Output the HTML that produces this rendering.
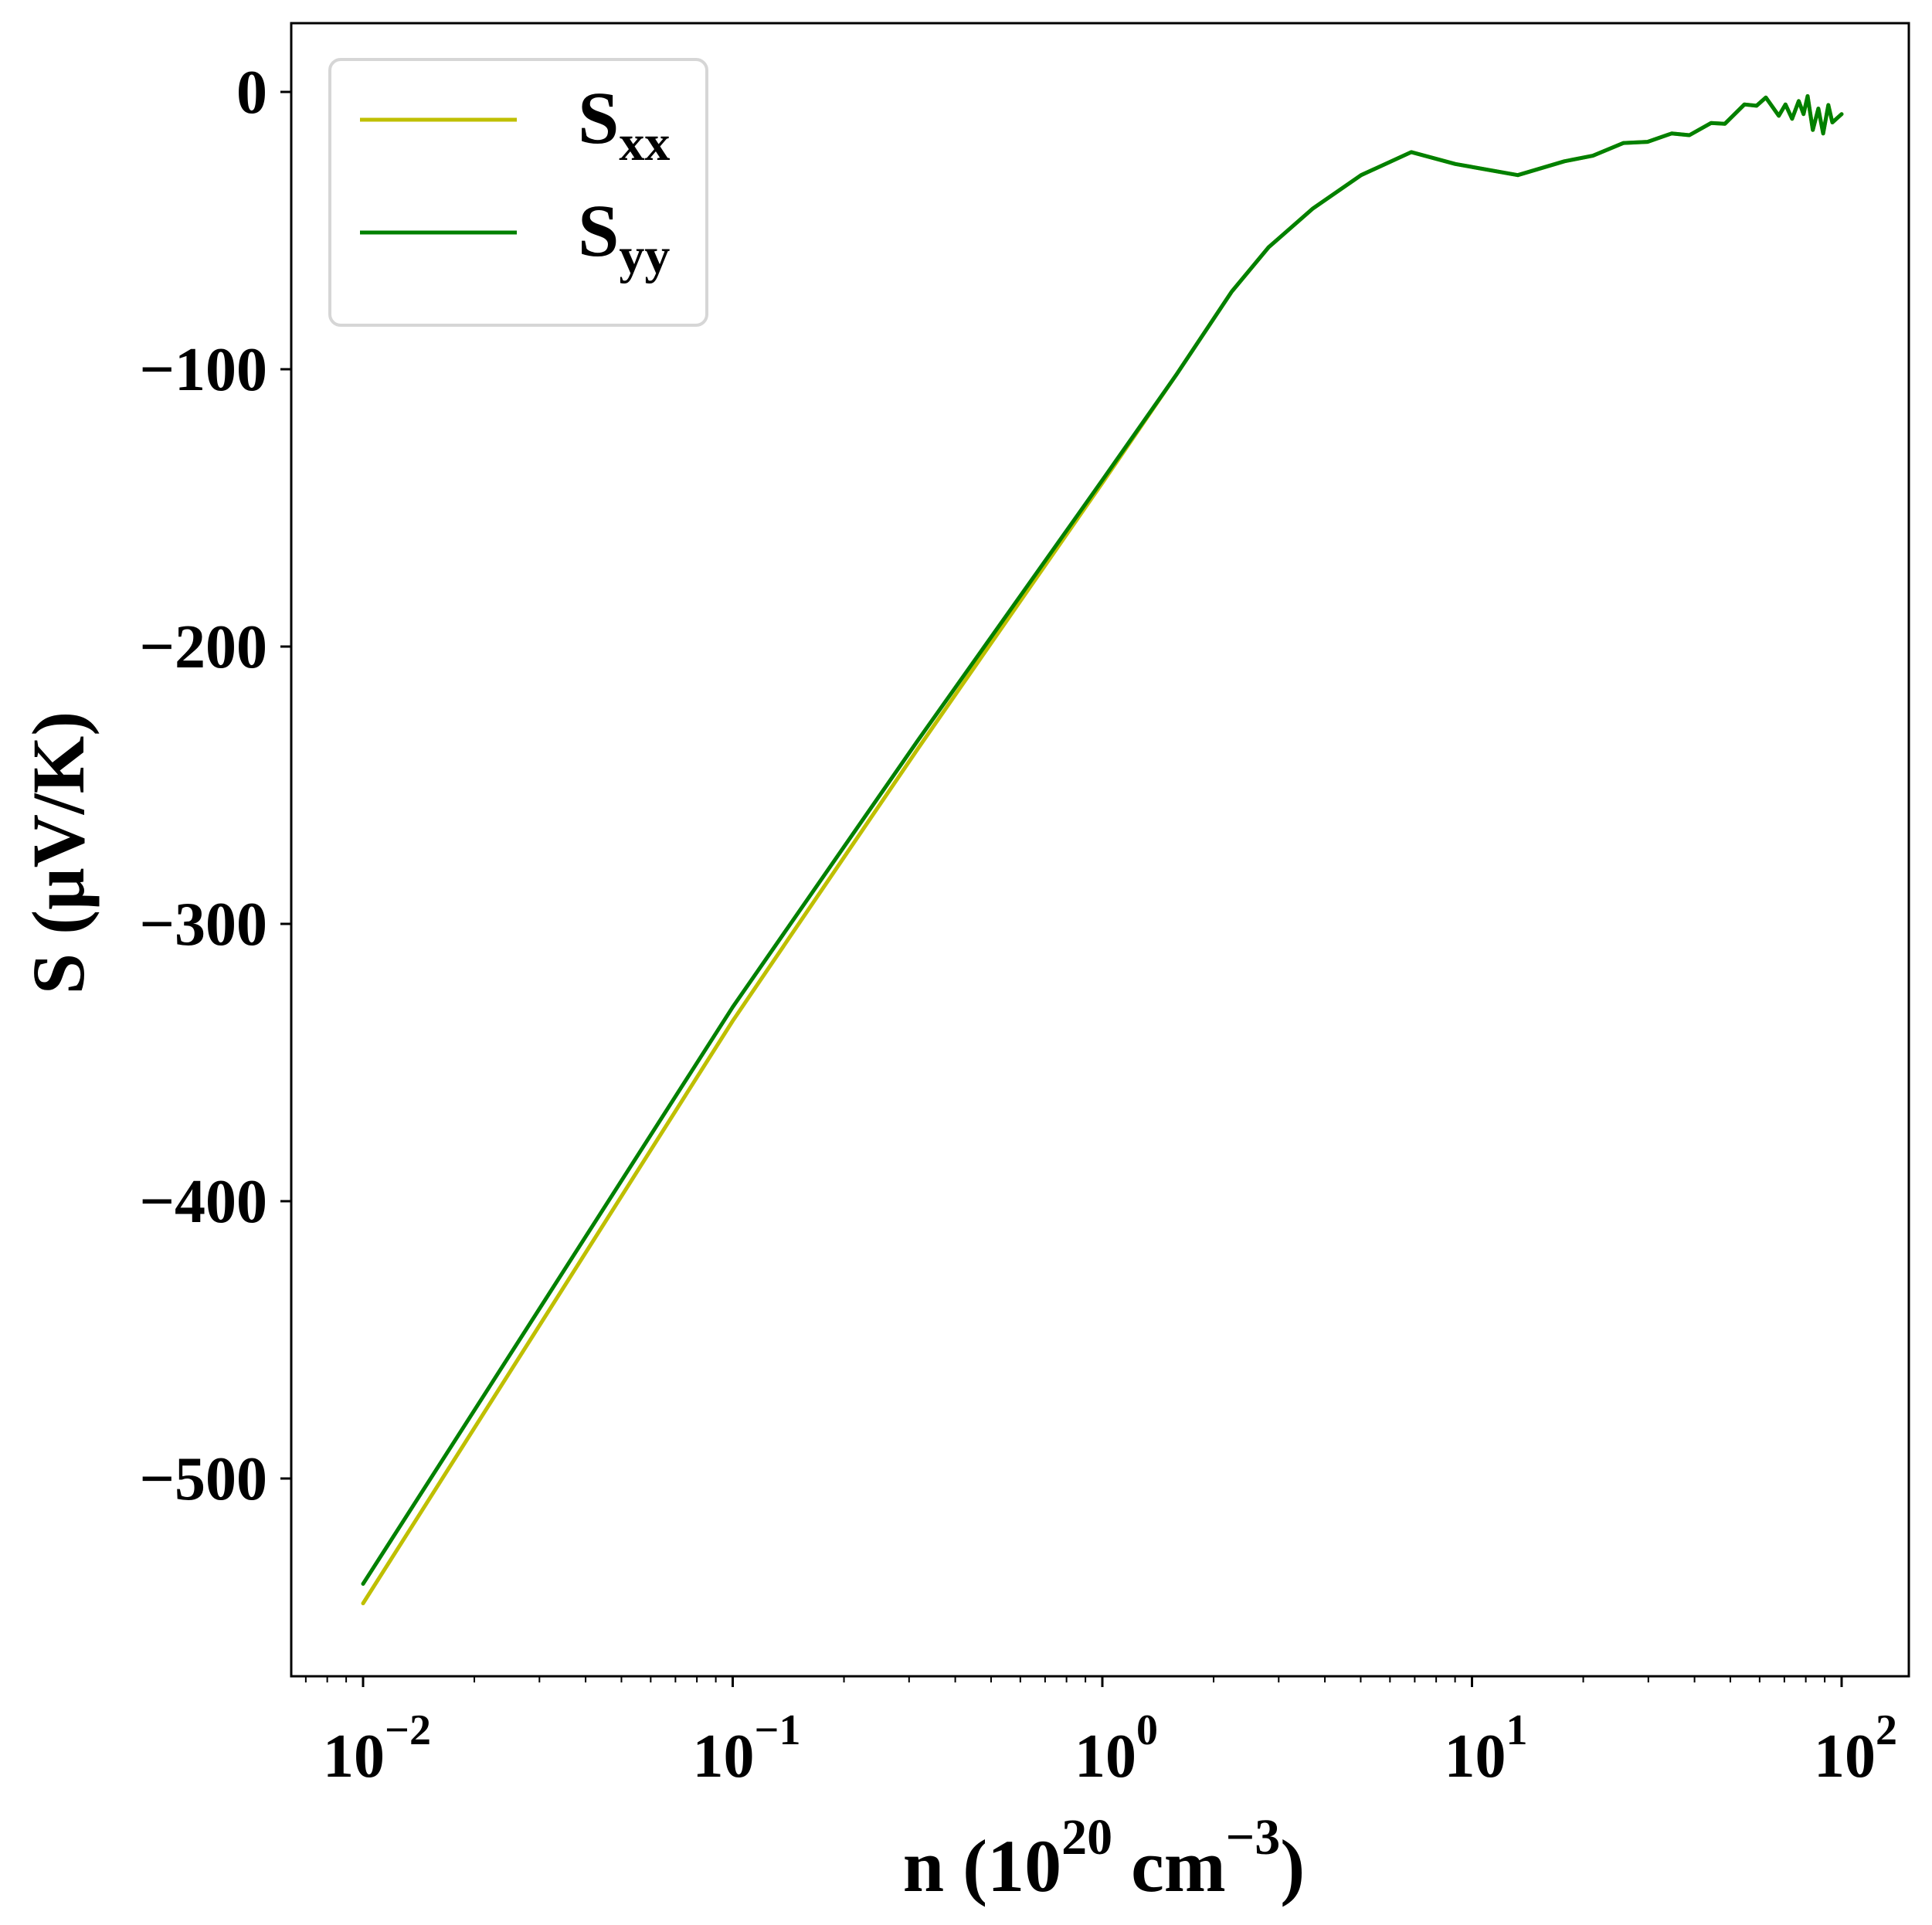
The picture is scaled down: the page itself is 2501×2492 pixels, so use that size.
<!DOCTYPE html>
<html><head><meta charset="utf-8"><style>
html,body{margin:0;padding:0;background:#fff;}
svg{display:block;font-family:"Liberation Serif",serif;font-weight:bold;}
</style></head><body>
<svg id="chart" width="2501" height="2492" viewBox="0 0 2501 2492" xmlns="http://www.w3.org/2000/svg">
<g id="plot"></g>
<g id="axes"></g>
<g id="legend">
  <rect x="427" y="77" width="488" height="344" rx="14" fill="#fff" stroke="#d6d6d6" stroke-width="4"/>
  <line x1="466" y1="155" x2="669" y2="155" stroke="#bfbf00" stroke-width="5"/>
  <text x="748" y="185" font-size="96">S<tspan font-size="66" dy="22">xx</tspan></text>
  <line x1="466" y1="301" x2="669" y2="301" stroke="#008000" stroke-width="5"/>
  <text x="748" y="331" font-size="96">S<tspan font-size="66" dy="22">yy</tspan></text>
</g>
<text x="1429" y="2448" font-size="96" text-anchor="middle">n (10<tspan font-size="66" dy="-48">20</tspan><tspan dy="48"> cm</tspan><tspan font-size="66" dy="-48">−3</tspan><tspan dy="48">)</tspan></text>
<text transform="translate(108,1104) rotate(-90)" font-size="96" text-anchor="middle">S (μV/K)</text>
</svg>
<script>
const logN = [-2, -1.5, -1, -0.5, 0, 0.2, 0.35, 0.45, 0.57, 0.7, 0.836, 0.955, 1.124, 1.25, 1.327, 1.41, 1.475, 1.54, 1.588, 1.647, 1.684, 1.737, 1.77, 1.795, 1.83, 1.848, 1.866, 1.884, 1.897, 1.908, 1.922, 1.937, 1.95, 1.964, 1.975, 2.0];
const syyValues = [-538, -434, -330, -234, -140, -102, -72, -56, -42, -30, -21.7, -26, -30, -25, -23, -18.4, -18, -15, -15.6, -11.2, -11.5, -4.5, -5, -2, -8.6, -4.5, -9.7, -3.3, -8, -1.5, -13.7, -6, -15, -4.7, -11, -8];
const sxxValues = [-545, -440, -335, -237, -141, -102, -72, -56, -42, -30, -21.7, -26, -30, -25, -23, -18.4, -18, -15, -15.6, -11.2, -11.5, -4.5, -5, -2, -8.6, -4.5, -9.7, -3.3, -8, -1.5, -13.7, -6, -15, -4.7, -11, -8];
const yTicks = [0, -100, -200, -300, -400, -500];
const yTickLabels = ["0", "−100", "−200", "−300", "−400", "−500"];
const xDecades = [-2, -1, 0, 1, 2];
const xTickLabels = ["−2", "−1", "0", "1", "2"];

const NS = "http://www.w3.org/2000/svg";
const L = 377, R = 2471, T = 30, B = 2170;
function xs(lg){ return 470 + (lg + 2) * 478.5; }
function ys(v){ return 119 - v * 3.59; }
function mk(tag, attrs, parent){ const e = document.createElementNS(NS, tag); for (const k in attrs) e.setAttribute(k, attrs[k]); parent.appendChild(e); return e; }

const plot = document.getElementById('plot');
const axes = document.getElementById('axes');

function drawSeries(vals, color, name){
  const d = logN.map((lg, i) => (i ? 'L' : 'M') + xs(lg).toFixed(1) + ',' + ys(vals[i]).toFixed(1)).join(' ');
  const p = mk('path', {d: d, fill: 'none', stroke: color, 'stroke-width': 5, 'stroke-linejoin': 'round', 'stroke-linecap': 'round'}, plot);
  
  
}
drawSeries(sxxValues, '#bfbf00', 'series-sxx');
drawSeries(syyValues, '#008000', 'series-syy');

const frame = mk('rect', {x: L, y: T, width: R - L, height: B - T, fill: 'none', stroke: '#000', 'stroke-width': 3}, axes);



yTicks.forEach((v, i) => {
  const y = ys(v);
  const t = mk('line', {x1: L - 14, y1: y, x2: L, y2: y, stroke: '#000', 'stroke-width': 3}, axes);
  
  
  const tx = mk('text', {x: 346, y: y + 27, 'font-size': 80, 'text-anchor': 'end'}, axes);
  tx.textContent = yTickLabels[i];
  
  
});

for (let d = -3; d <= 2; d++) {
  for (let m = 2; m <= 9; m++) {
    const lg = d + Math.log10(m);
    const x = xs(lg);
    if (x < L || x > R) continue;
    const t = mk('line', {x1: x, y1: B, x2: x, y2: B + 8, stroke: '#000', 'stroke-width': 2}, axes);
    
    
  }
}
xDecades.forEach((d, i) => {
  const x = xs(d);
  const t = mk('line', {x1: x, y1: B, x2: x, y2: B + 14, stroke: '#000', 'stroke-width': 3}, axes);
  
  
  const tx = mk('text', {x: x + 18, y: 2300, 'font-size': 80, 'text-anchor': 'middle'}, axes);
  tx.textContent = '10';
  const sup = mk('tspan', {'font-size': 56, dy: -42}, tx);
  sup.textContent = xTickLabels[i];
  
  
});
</script>
</body></html>
